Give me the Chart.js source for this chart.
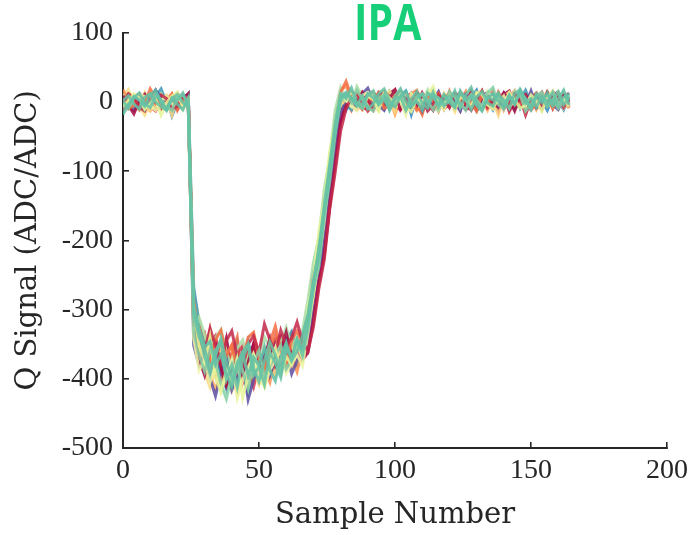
<!DOCTYPE html>
<html>
<head>
<meta charset="utf-8">
<script src="https://cdn.jsdelivr.net/npm/chart.js@4.4.1/dist/chart.umd.min.js"></script>
<style>
  html, body { margin: 0; padding: 0; background: #ffffff; }
  #wrap { position: relative; width: 700px; height: 535px; }
  #c { position: absolute; left: 0; top: 0; }
  #title {
    position: absolute; left: 354px; top: -4px;
    font-family: "Open Sans", "Noto Sans", sans-serif; font-weight: 700;
    font-size: 40px; line-height: 40px; color: #17cf78;
    transform: scale(1.02, 1.27); transform-origin: 0 0; white-space: nowrap;
  }
</style>
</head>
<body>
<div id="wrap">
  <canvas id="c" width="700" height="535"></canvas>
  <div id="title">IPA</div>
</div>
<script>
// Sample numbers (x positions of readings)
const sampleNumbers = [0,2,4,6,8,10,12,14,16,18,20,22,24,26,28,30,32,34,36,38,40,42,44,46,48,50,52,54,56,58,60,62,64,66,68,70,72,74,76,78,80,82,84,86,88,90,92,94,96,98,100,102,104,106,108,110,112,114,116,118,120,122,124,126,128,130,132,134,136,138,140,142,144,146,148,150,152,154,156,158,160,162,164];

// Q signal traces (ADC/ADC), one array per waveform
const q01 = [6,11,-4,-9,2,8,16,-2,-11,-6,5,0,-8, -305,
  -348,-335,-366,-392,-370,-341,-389,-402,-358,-377,-349,-362,-395,-371,-343,-338,-366,-381,-347,-370,
  -358,-310,-248,-215,-150,-76, -28,
  4,15,9,-6,-12,3,7,-3,12,18,-5,-9,-1,10,-14,2,6,13,-8,-4,9,1,-11,-7,14,5,-2,8,-13,11,16,-6,0,-10,7,3,-4,12,-9,6,10,-2];
const q02 = [-9,-3,7,12,4,-7,-13,1,9,3,-5,10,-2, -290,
  -362,-381,-350,-338,-377,-408,-396,-363,-352,-390,-412,-380,-366,-349,-371,-392,-358,-336,-361,-352,
  -340,-296,-232,-190,-118,-66, -10,
  -8,-2,11,6,-13,-5,14,9,2,-7,-11,5,13,-1,-6,8,17,3,-10,-3,6,-12,10,4,-4,15,-9,-2,7,12,-14,1,9,-6,-11,5,14,-3,2,-8,11,6];
const q03 = [3,-10,-5,9,-1,19,6,-8,-3,11,-12,2,7, -322,
  -325,-359,-372,-344,-330,-367,-351,-384,-375,-340,-333,-369,-386,-348,-324,-357,-379,-344,-331,-350,
  -318,-255,-220,-152,-101,-38, 14,
  30,8,-4,-11,6,2,13,-9,-6,10,16,-3,4,-12,-7,9,1,12,-5,15,-10,3,7,-2,-13,11,5,-8,14,-1,-6,8,13,2,-11,-4,10,6,-9,12,-3,1];
const q04 = [-12,5,10,-1,-7,-13,4,12,7,-4,-9,8,1, -318,
  -371,-350,-394,-415,-388,-362,-399,-421,-376,-368,-404,-390,-357,-382,-395,-366,-351,-377,-360,-344,
  -328,-268,-235,-162,-112,-44, 5,
  11,-6,-12,4,9,15,-2,-8,6,-18,3,12,8,-5,-10,1,14,-3,7,10,-9,-4,5,16,-7,2,-12,9,4,-1,13,-8,-5,11,6,-11,3,15,-2,-7,8,0];
const q05 = [8,18,1,-6,-19,-2,10,5,-9,0,12,-7,-4, -276,
  -318,-343,-369,-387,-361,-398,-417,-384,-372,-409,-393,-366,-401,-378,-359,-385,-370,-348,-375,-363,
  -335,-290,-226,-183,-112,-62, -4,
  5,-10,2,14,7,-4,-13,9,16,-1,-7,3,12,-11,6,10,-5,-2,13,4,-14,8,1,-8,11,17,-3,-9,5,9,-6,14,2,-12,-4,7,12,-1,-9,3,15,-5];
const q06 = [-5,2,12,7,-10,-4,6,-19,-1,9,14,-8,3, -300,
  -352,-375,-340,-398,-419,-388,-405,-372,-427,-396,-365,-384,-410,-377,-356,-391,-368,-380,-352,-371,
  -296,-258,-188,-142,-72,-28, 11,
  2,16,-5,-9,8,4,-12,13,6,-3,10,-8,-14,5,1,12,22,-6,-2,9,-11,7,3,-7,14,11,-4,-10,6,-1,13,4,-9,-5,10,2,-13,8,16,-3,5,-7];
const q07 = [10,-1,-11,4,8,-6,1,12,-4,-12,6,3,-9, -338,
  -312,-336,-358,-341,-329,-362,-385,-356,-344,-376,-395,-364,-340,-355,-372,-348,-326,-352,-339,-330,
  -286,-232,-196,-126,-80,-12, 20,
  1,-7,22,8,-2,13,-11,-5,6,15,3,-9,11,-4,2,17,-8,-13,7,4,12,-6,-1,9,-12,14,5,-3,10,-10,1,16,6,-7,11,-2,-11,8,13,-4,3,9];
const q08 = [1,-9,6,13,-3,-8,9,2,-12,5,11,-1,-6, -302,
  -330,-368,-392,-360,-345,-401,-380,-412,-371,-351,-395,-383,-408,-362,-377,-398,-357,-369,-344,-366,
  -322,-262,-226,-158,-104,-40, 8,
  14,6,-4,9,-10,-3,12,19,2,-7,8,-12,4,15,-2,-9,11,6,-5,1,16,-8,10,21,-1,-11,7,3,13,-6,9,-3,18,4,-9,12,5,-6,2,14,-4,7];
const q09 = [-11,3,8,-4,5,11,-9,-2,7,-20,0,9,-3, -328,
  -355,-379,-401,-366,-390,-414,-372,-348,-397,-420,-385,-362,-378,-351,-389,-370,-343,-362,-380,-357,
  -338,-276,-245,-171,-120,-50, -3,
  -12,4,13,7,-6,-1,10,-9,15,3,-4,11,-18,8,2,-7,14,5,-10,9,12,-3,-8,6,17,-5,1,-11,10,4,-2,13,-9,7,-5,11,2,-12,8,15,-6,3];
const q10 = [4,-6,-12,9,1,-3,17,6,-8,2,-10,7,11, -352,
  -381,-364,-399,-425,-392,-370,-416,-398,-377,-430,-402,-381,-366,-395,-371,-386,-360,-393,-374,-352,
  -356,-305,-258,-198,-124,-74, -14,
  -2,9,-8,12,20,1,-5,-12,7,3,13,-4,-9,10,5,-11,2,15,-6,8,-1,-13,11,6,-3,9,14,-7,-2,12,-10,4,7,-5,16,-8,1,10,-4,-11,6,13];
const q11 = [-4,12,6,-8,-13,3,-1,10,5,-10,-6,8,0, -312,
  -339,-361,-327,-352,-376,-345,-331,-368,-384,-350,-338,-362,-321,-344,-365,-330,-352,-341,-318,-346,
  -360,-325,-270,-228,-155,-102, -42,
  -10,6,12,-2,4,-11,9,15,-5,-1,11,3,-8,14,7,-13,-4,10,1,-7,13,8,-3,-12,5,16,-6,2,9,-9,-2,12,6,-19,3,11,-5,-1,15,7,-8,4];
const q12 = [18,2,-7,-11,6,10,-3,-9,4,12,-1,-5,8, -288,
  -345,-371,-330,-384,-402,-366,-352,-391,-377,-359,-398,-372,-387,-405,-363,-349,-382,-368,-390,-358,
  -308,-266,-202,-156,-84,-34, 16,
  24,3,-8,10,-3,-12,6,14,9,-5,1,-9,12,17,-2,-7,5,-13,8,11,-4,2,15,-10,-6,9,4,-1,13,-11,7,16,-3,-8,10,1,-12,6,12,-5,3,-9];
const q13 = [-8,-2,9,5,-11,0,12,3,-6,-12,7,10,-3, -332,
  -366,-389,-356,-378,-407,-429,-394,-370,-388,-415,-376,-359,-397,-382,-364,-352,-386,-373,-347,-368,
  -330,-270,-238,-164,-114,-46, 4,
  9,-1,17,4,-8,-13,6,11,-3,2,14,-9,-5,8,12,1,-11,5,-6,15,7,-2,-12,10,3,-7,13,21,-4,-10,6,1,11,-13,-3,9,14,-6,4,-9,2,10];
const q14 = [7,11,-5,-10,3,-7,8,19,-2,-9,5,-4,10, -268,
  -320,-352,-338,-371,-395,-364,-388,-410,-377,-346,-383,-399,-361,-350,-376,-388,-345,-332,-358,-347,
  -300,-246,-214,-140,-92,-24, 10,
  -4,-11,8,3,14,-6,1,12,-9,-2,9,16,-5,4,-12,7,11,-1,-8,13,2,-6,10,5,-13,-3,14,8,-7,1,12,-10,4,17,-2,-8,6,10,-5,3,-11,7];
const q15 = [-1,-9,5,11,8,-6,-12,2,10,-4,6,-11,3, -342,
  -388,-372,-405,-379,-418,-396,-373,-428,-401,-384,-366,-399,-412,-387,-374,-360,-392,-378,-365,-381,
  -334,-277,-228,-172,-96,-40, 6,
  3,-6,-12,9,14,5,-3,11,-9,7,1,-19,12,4,-5,8,16,-2,-10,6,13,-7,2,10,-4,-11,15,5,-1,9,-8,3,12,-13,6,-2,11,7,-6,14,-9,1];
const q16 = [2,9,-3,-10,7,12,0,-7,-12,6,3,13,-6, -308,
  -340,-357,-383,-368,-342,-376,-399,-388,-361,-350,-385,-404,-373,-347,-366,-389,-352,-371,-343,-356,
  -312,-270,-210,-160,-98,-42, 2,
  12,5,-6,-2,10,16,-4,3,-10,8,19,1,-7,6,11,-3,14,-8,2,9,-5,13,4,-11,7,15,-1,-6,10,3,-9,12,18,-2,5,-7,9,0,14,-5,7,11];
const q17 = [-6,4,1,-11,9,5,-4,11,-8,-1,13,2,-10, -315,
  -358,-336,-373,-396,-351,-382,-363,-340,-405,-379,-356,-371,-393,-358,-337,-364,-381,-350,-362,-341,
  -326,-280,-222,-174,-108,-56, -2,
  7,-12,3,10,-5,13,8,-1,-9,15,4,-6,11,-3,-18,9,2,12,-7,5,-10,14,6,-2,9,-8,1,16,-5,11,-12,4,10,-3,7,13,-9,2,-6,12,5,-1];
const q18 = [9,-5,-17,2,11,-2,6,-10,0,8,-7,4,12, -330,
  -372,-395,-360,-347,-384,-410,-389,-367,-398,-376,-351,-388,-371,-342,-380,-359,-333,-368,-355,-373,
  -362,-318,-262,-222,-150,-92, -30,
  -6,8,-1,14,3,-9,11,-4,6,16,-11,2,9,-6,13,-2,-12,7,4,-8,12,1,-5,15,-10,6,10,-3,-7,13,3,-13,8,11,-4,1,-9,14,5,-2,9,-7];
const q19 = [-18,-4,8,3,-6,10,17,-1,-9,4,-3,-11,6, -296,
  -329,-354,-346,-380,-365,-393,-411,-377,-362,-396,-369,-381,-354,-388,-403,-369,-348,-374,-360,-338,
  -306,-258,-215,-148,-90,-30, 12,
  5,20,-3,-9,12,6,-2,10,-12,4,8,15,-6,1,-10,13,7,-4,11,-1,-8,16,3,9,-5,-13,6,12,2,-7,10,-3,15,5,-11,8,-1,13,-6,4,17,-4];
const q20 = [5,10,-8,-3,13,-11,-5,7,2,-19,9,1,-4, -326,
  -365,-390,-412,-384,-360,-401,-376,-418,-395,-364,-389,-408,-380,-362,-394,-371,-385,-359,-376,-364,
  -318,-284,-218,-165,-102,-50, 1,
  -3,6,12,-10,2,9,-6,14,-1,-13,7,11,4,-8,10,-4,15,2,-11,6,9,-7,-2,13,5,-9,11,1,-19,8,14,-5,3,10,-8,6,-3,12,2,-10,7,13];

// Tick values
const xTicks = [0, 50, 100, 150, 200];
const yTicks = [-500, -400, -300, -200, -100, 0, 100];

// Painting order, bottom first (Spectral colormap)
const traces = [
  [q01, '#9e0142'], [q04, '#fdae61'], [q09, '#3288bd'], [q17, '#ef6a45'], [q05, '#fee08b'],
  [q02, '#d53e4f'], [q14, '#3f96b7'], [q20, '#fdd47f'], [q12, '#f88d51'], [q07, '#abdda4'],
  [q10, '#5e4fa2'], [q18, '#a50a43'], [q15, '#eef5a4'], [q03, '#f46d43'], [q11, '#c2294a'],
  [q13, '#86cfa5'], [q06, '#e6f598'], [q19, '#5fbfa6'], [q08, '#66c2a5'], [q16, '#66c2a5']
];

function withAlpha(hex, a) {
  const r = parseInt(hex.slice(1,3),16), g = parseInt(hex.slice(3,5),16), b = parseInt(hex.slice(5,7),16);
  return 'rgba(' + r + ',' + g + ',' + b + ',' + a + ')';
}

// Chart.js paints dataset 0 last (on top), so reverse the painting order
const datasets = traces.slice().reverse().map(([vals, col]) => ({
  data: sampleNumbers.map((x, i) => ({ x: x, y: vals[i] })),
  borderColor: withAlpha(col, 0.86),
  borderWidth: 3,
  pointRadius: 0,
  tension: 0,
  fill: false
}));

const axisColor = '#262626';
const tickFont = { family: '"Liberation Serif", "DejaVu Serif", serif', size: 28 };
const titleFont = { family: '"DejaVu Serif", serif', size: 29 };

new Chart(document.getElementById('c'), {
  type: 'line',
  data: { datasets: datasets },
  options: {
    responsive: false,
    animation: false,
    events: [],
    layout: { padding: { top: 30, right: 27, bottom: 0, left: 0 } },
    plugins: { legend: { display: false }, tooltip: { enabled: false } },
    scales: {
      x: {
        type: 'linear', min: 0, max: 200,
        afterBuildTicks: s => { s.ticks = xTicks.map(v => ({ value: v })); },
        afterFit: s => { s.height = 87; },
        border: { display: true, color: axisColor, width: 2 },
        grid: { display: true, drawOnChartArea: false, drawTicks: true, tickLength: -6, color: axisColor, lineWidth: 1.6 },
        ticks: { color: axisColor, font: tickFont, padding: 12, maxRotation: 0 },
        title: { display: true, text: 'Sample Number', color: axisColor, font: titleFont, padding: { top: 0, bottom: 2 } }
      },
      y: {
        type: 'linear', min: -500, max: 100,
        afterBuildTicks: s => { s.ticks = yTicks.map(v => ({ value: v })); },
        afterFit: s => { s.width = 123; },
        border: { display: true, color: axisColor, width: 2 },
        grid: { display: true, drawOnChartArea: false, drawTicks: true, tickLength: -6, color: axisColor, lineWidth: 1.6 },
        ticks: { color: axisColor, font: tickFont, padding: 16 },
        title: { display: true, text: 'Q Signal (ADC/ADC)', color: axisColor, font: titleFont, padding: { top: 11, bottom: 0 } }
      }
    }
  }
});
</script>
</body>
</html>
